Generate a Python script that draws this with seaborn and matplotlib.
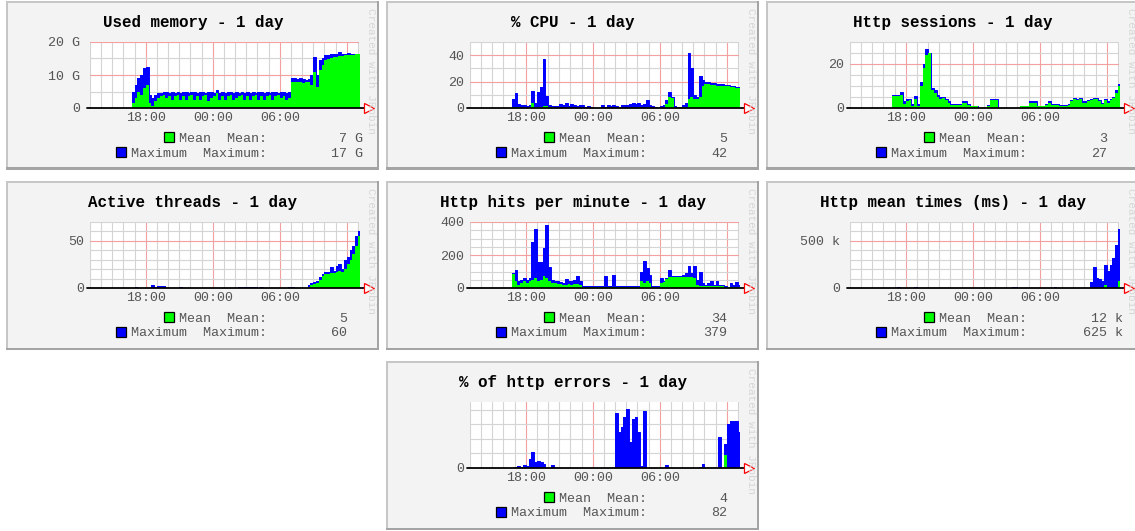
import numpy as np
import pandas as pd
import matplotlib
matplotlib.use("Agg")
import matplotlib.pyplot as plt
import seaborn as sns
from matplotlib.patches import Rectangle

# ---------------- data (15-minute steps starting 16:45, hours since day-1 midnight) -------------
START_HOUR = 16.75
STEP_HOURS = 0.25

mem_max = [5, 7, 9, 10, 12, 12.5, 4, 3, 4, 4.5,
           4.5, 5, 4.8, 4.5, 4.8, 4.5, 4.8, 4.5, 4.8, 5,
           4.5, 4.8, 5, 4.6, 4.8, 5, 4.6, 4.8, 5, 4.5,
           5.5, 4.6, 4.8, 4.5, 4.8, 5, 4.6, 4.8, 4.5, 5,
           4.6, 4.8, 4.5, 5, 4.6, 4.8, 5, 4.5, 4.8, 4.6,
           4.8, 5, 4.6, 4.8, 5, 4.5, 4.8, 9, 9, 8.8,
           9, 8.7, 8.5, 8.8, 10, 15.5, 10, 14.5, 15, 16,
           16.2, 16.3, 16.5, 16.5, 17, 16.5, 16.5, 16.6, 16.5, 16.5,
           16.5, 16.5]
mem_mean = [1.5, 3, 5, 4, 6, 7, 1.5, 0.5, 2, 3,
            3.5, 4, 3, 3.5, 2.5, 3.5, 4, 2.5, 3.5, 2.5,
            3.5, 4, 2.5, 3.5, 2.5, 3.5, 4, 2, 3, 3.5,
            4.5, 2.5, 3.5, 2.5, 3.5, 4, 2.5, 3, 3.5, 4,
            2.5, 3.5, 2.5, 3.5, 4, 2.5, 3.5, 2.5, 3.5, 4,
            2.5, 3.5, 4, 3, 3.5, 2.5, 3, 8, 7.8, 8,
            7.8, 7.5, 7.8, 8, 7, 11, 6.5, 11.5, 13, 14.5,
            15, 15.3, 15.5, 15.5, 15.8, 15.8, 16, 16, 16.2, 16.2,
            16.3, 16.3]

cpu_max = [7, 11, 3, 2, 2, 1.5, 2, 13, 4, 12,
           16, 37, 9, 2, 1.5, 1.5, 1.5, 3, 2, 4,
           1.5, 3, 2.5, 1.5, 2, 2, 1, 1.5, 0.5, 0,
           0, 0, 2, 1, 2, 1.5, 2, 1.5, 1, 2,
           2, 2, 3, 4, 3, 4, 2, 3, 6, 2,
           1.5, 0.5, 0, 1.5, 2.5, 6, 12, 8, 1.5, 1,
           1, 2, 4, 42, 30, 10, 8, 24, 21, 20,
           19.5, 19, 19, 18.5, 18, 18, 17.5, 17.5, 17, 17,
           16, 16]
cpu_mean = [0.5, 1, 0.5, 0.3, 0.3, 0.3, 0.5, 4, 0.5, 1,
            1, 1.5, 1.5, 0.5, 0.5, 0.3, 0.3, 0.3, 0.3, 0.3,
            0.3, 0.3, 0.3, 0.3, 0.3, 0.3, 0.2, 0.2, 0, 0,
            0, 0, 0.3, 0.2, 0.3, 0.2, 0.3, 0.2, 0.2, 0.3,
            0.3, 0.3, 0.3, 0.5, 0.3, 0.5, 0.3, 0.3, 0.5, 0.3,
            0.2, 0, 0, 0.2, 0.3, 3, 8, 7.5, 0.3, 0.2,
            0.2, 0.5, 1, 7, 8, 7, 7, 8, 17, 18,
            18, 17.5, 17.5, 17, 17, 16.5, 16.5, 16.5, 16, 16,
            15, 15]

sess_max = [6, 6, 6, 7.5, 3, 4, 4, 2, 5.5, 2,
            12, 20, 27, 25, 9, 8, 6, 5, 5, 4,
            3, 2, 2, 2, 2, 3, 3, 2, 1, 1,
            1, 0, 0, 0, 1.5, 4, 4, 4, 0, 0,
            0, 0, 0, 0, 0, 0, 1, 1, 1, 3,
            3, 3, 1, 1, 1, 2, 3, 2, 2, 2,
            1.5, 1.5, 1.5, 2, 3.5, 4.5, 4, 4.5, 3, 3,
            3.5, 4, 4.5, 4.5, 3.5, 2.5, 4, 3, 4, 5,
            8, 11]
sess_mean = [5.5, 5.5, 5.5, 6, 2, 3, 3.5, 1, 4, 1,
             10, 18, 24, 25, 8, 7, 5, 4, 4.5, 3.5,
             2.5, 1.5, 1.5, 1.5, 1.5, 2.5, 2.5, 1.5, 0.8, 0.8,
             0.8, 0, 0, 0, 1, 3.5, 3.5, 3.5, 0, 0,
             0, 0, 0, 0, 0, 0, 0.8, 0.8, 0.8, 2.5,
             2.5, 2.5, 0.8, 0.8, 0.8, 1.5, 2.5, 1.5, 1.5, 1.5,
             1, 1, 1, 1.5, 3, 4, 3.5, 4, 2.5, 2.5,
             3, 3.5, 4, 4, 3, 2, 3.5, 2.5, 3.5, 4.5,
             7, 10]

thr_max = [0.5, 1, 0, 0, 0, 0, 0, 3, 1, 2,
           2, 2, 0, 0, 0, 0, 0, 1, 0, 0,
           0, 0, 0, 0, 0, 0, 0, 0, 0, 0,
           0, 0, 0, 0, 0, 0, 0, 0, 1, 1,
           1, 1, 1.5, 1.5, 1, 0.5, 1, 0.5, 0, 0,
           0, 0, 0, 0, 0, 0, 1.5, 1.5, 0, 0,
           0, 0, 0, 3, 5, 6, 7, 12, 15, 17,
           17, 22, 18, 23, 25, 20, 30, 33, 40, 45,
           55, 60]
thr_mean = [0, 0, 0, 0, 0, 0, 0, 0, 0, 0,
            0, 0, 0, 0, 0, 0, 0, 0, 0, 0,
            0, 0, 0, 0, 0, 0, 0, 0, 0, 0,
            0, 0, 0, 0, 0, 0, 0, 0, 0, 0,
            0, 0, 0, 0, 0, 0, 0, 0, 0, 0,
            0, 0, 0, 0, 0, 0, 0, 0, 0, 0,
            0, 0, 0, 1, 3, 4, 5, 9, 13, 15,
            15, 16, 16, 17, 18, 17, 20, 25, 30, 36,
            45, 55]

hits_max = [90, 110, 40, 50, 60, 50, 60, 280, 360, 160,
            160, 240, 379, 130, 50, 40, 40, 35, 30, 55,
            45, 40, 50, 75, 40, 10, 10, 10, 10, 10,
            10, 10, 10, 75, 10, 10, 80, 10, 10, 10,
            10, 10, 10, 10, 10, 10, 100, 165, 120, 80,
            10, 10, 10, 60, 45, 60, 110, 75, 75, 75,
            75, 80, 90, 135, 90, 135, 50, 100, 30, 20,
            30, 40, 20, 45, 20, 20, 15, 5, 30, 20,
            35, 20]
hits_mean = [85, 40, 20, 30, 40, 30, 40, 50, 60, 40,
             50, 70, 60, 40, 30, 30, 25, 25, 20, 20,
             25, 20, 25, 25, 20, 5, 5, 5, 5, 5,
             5, 5, 5, 5, 5, 5, 5, 5, 5, 5,
             5, 5, 5, 5, 5, 5, 40, 30, 40, 30,
             5, 5, 5, 30, 35, 55, 65, 65, 65, 65,
             65, 65, 65, 65, 65, 60, 20, 15, 15, 10,
             10, 10, 10, 10, 10, 10, 5, 5, 5, 5,
             5, 5]

times_max = [0, 0, 12, 0, 0, 0, 0, 0, 10, 0,
             0, 0, 0, 0, 0, 0, 0, 0, 0, 0,
             0, 0, 0, 0, 0, 0, 0, 0, 0, 0,
             0, 0, 0, 0, 0, 0, 0, 0, 0, 0,
             0, 0, 0, 12, 12, 0, 0, 0, 0, 0,
             0, 0, 0, 0, 0, 0, 0, 0, 10, 0,
             0, 0, 0, 0, 0, 0, 0, 0, 0, 0,
             0, 60, 220, 110, 100, 70, 240, 180, 240, 320,
             460, 625]
times_mean = [0, 0, 0, 0, 0, 0, 0, 0, 0, 0,
              0, 0, 0, 0, 0, 0, 0, 0, 0, 0,
              0, 0, 0, 0, 0, 0, 0, 0, 0, 0,
              0, 0, 0, 0, 0, 0, 0, 0, 0, 0,
              0, 0, 0, 0, 0, 0, 0, 0, 0, 0,
              0, 0, 0, 0, 0, 0, 0, 0, 0, 0,
              0, 0, 0, 0, 0, 0, 0, 0, 0, 0,
              0, 0, 0, 0, 0, 0, 30, 0, 0, 0,
              0, 70]

err_max = [0, 2, 3, 2, 4, 3, 12, 22, 8, 10,
           8, 6, 0, 0, 4, 0, 0, 0, 0, 0,
           0, 0, 0, 0, 0, 0, 0, 0, 0, 0,
           0, 0, 0, 0, 0, 0, 0, 76, 50, 56,
           70, 82, 36, 68, 70, 50, 3, 79, 0, 0,
           0, 0, 0, 0, 0, 4, 0, 0, 0, 0,
           0, 0, 0, 0, 0, 0, 0, 2, 5, 0,
           0, 0, 0, 0, 43, 0, 33, 60, 65, 65,
           65, 50]
err_mean = [0, 0, 0, 0, 0, 0, 0, 0, 0, 0,
            0, 0, 0, 0, 0, 0, 0, 0, 0, 0,
            0, 0, 0, 0, 0, 0, 0, 0, 0, 0,
            0, 0, 0, 0, 0, 0, 0, 0, 0, 0,
            0, 0, 0, 0, 0, 0, 0, 0, 0, 0,
            0, 0, 0, 0, 0, 0, 0, 0, 0, 0,
            0, 0, 0, 0, 0, 0, 0, 0, 0, 0,
            0, 0, 0, 0, 0, 0, 18, 0, 0, 0,
            0, 0]

titles = ["Used memory - 1 day", "% CPU - 1 day", "Http sessions - 1 day",
          "Active threads - 1 day", "Http hits per minute - 1 day",
          "Http mean times (ms) - 1 day", "% of http errors - 1 day"]
units = ["G", "", "", "", "", "k", ""]
legend_mean = [7, 5, 3, 5, 34, 12, 4]
legend_max = [17, 42, 27, 60, 379, 625, 82]
y_top = [20, 50, 30, 70, 400, 700, 91]
y_major = [[0, 10, 20], [0, 20, 40], [0, 20], [0, 50], [0, 200, 400], [0, 500], [0]]
y_minor_step = [5, 10, 5, 10, 50, 100, 20]
x_tick_hours = [18, 24, 30]
x_tick_labels = ["18:00", "00:00", "06:00"]
x_major_grid_hours = [18, 24, 30, 36]

series_max = [mem_max, cpu_max, sess_max, thr_max, hits_max, times_max, err_max]
series_mean = [mem_mean, cpu_mean, sess_mean, thr_mean, hits_mean, times_mean, err_mean]

# ---------------- layout ----------------
W, H = 1135, 531
PW, PH = 373, 169
panel_origin = [(6, 1), (386, 1), (766, 1), (6, 181), (386, 181), (766, 181), (386, 361)]

sns.set_style("white")
plt.rcParams["font.family"] = ["Liberation Mono", "DejaVu Sans Mono"]

fig = plt.figure(figsize=(W / 100, H / 100), dpi=100)
fig.patch.set_facecolor("white")


def fx(x):
    return x / W


def fy(y):
    return 1 - y / H


TXT = "#555555"
GRID_MINOR = "#d4d4d4"
GRID_MAJOR = "#f4a0a0"

for k in range(7):
    x0, y0 = panel_origin[k]
    unit = units[k]
    # panel background and bevelled border
    fig.add_artist(Rectangle((fx(x0), fy(y0 + PH)), PW / W, PH / H, transform=fig.transFigure,
                             facecolor="#f3f3f3", edgecolor="none", zorder=0))
    fig.add_artist(Rectangle((fx(x0), fy(y0 + 2)), PW / W, 2 / H, transform=fig.transFigure,
                             facecolor="#c6c6c6", edgecolor="none", zorder=0.1))
    fig.add_artist(Rectangle((fx(x0), fy(y0 + PH)), 2 / W, PH / H, transform=fig.transFigure,
                             facecolor="#c6c6c6", edgecolor="none", zorder=0.1))
    fig.add_artist(Rectangle((fx(x0), fy(y0 + PH)), PW / W, 2.5 / H, transform=fig.transFigure,
                             facecolor="#a4a4a4", edgecolor="none", zorder=0.2))
    fig.add_artist(Rectangle((fx(x0 + PW - 2.5), fy(y0 + PH)), 2.5 / W, PH / H, transform=fig.transFigure,
                             facecolor="#a4a4a4", edgecolor="none", zorder=0.2))

    # plot area
    ax = fig.add_axes([fx(x0 + 84), fy(y0 + 107), 269 / W, 66 / H])
    ax.set_facecolor("white")
    vmax = np.asarray(series_max[k], dtype=float)
    vmean = np.asarray(series_mean[k], dtype=float)
    edges = START_HOUR + STEP_HOURS * np.arange(len(vmax) + 1)
    vmax_e = np.append(vmax, vmax[-1])
    vmean_e = np.append(vmean, vmean[-1])
    ax.fill_between(edges, 0, vmax_e, step="post", color="#0000ff", lw=0, zorder=3)
    df = pd.DataFrame({"t": edges, "v": vmax_e})
    sns.lineplot(data=df, x="t", y="v", drawstyle="steps-post", color="#0000ff",
                 linewidth=0.7, ax=ax, zorder=4)
    ax.fill_between(edges, 0, vmean_e, step="post", color="#00ff00", lw=0, zorder=5)
    ax.set_xlabel("")
    ax.set_ylabel("")

    ax.set_xlim(13.0, 37.1)
    ax.set_ylim(0, y_top[k])
    ax.set_xticks(x_major_grid_hours, x_tick_labels + [""])
    ax.set_xticks([h for h in range(13, 38) if h not in x_major_grid_hours], minor=True)
    ylabels = [("0" if v == 0 else (f"{v} {unit}" if unit else f"{v}")) for v in y_major[k]]
    ax.set_yticks(y_major[k], ylabels)
    ax.set_yticks([v for v in np.arange(0, y_top[k] + 1e-9, y_minor_step[k]) if v not in y_major[k]],
                  minor=True)
    ax.grid(which="minor", color=GRID_MINOR, lw=0.8)
    ax.grid(which="major", color=GRID_MAJOR, lw=0.8)
    ax.set_axisbelow(True)
    for s in ax.spines.values():
        s.set_visible(False)
    ax.tick_params(axis="x", which="both", length=0, pad=3.2, labelsize=9.6, labelcolor=TXT)
    ax.tick_params(axis="y", which="major", length=2.2, width=0.8, color=GRID_MAJOR,
                   pad=(5.0 if unit else 2.2), labelsize=9.6, labelcolor=TXT)
    ax.tick_params(axis="y", which="minor", length=2.2, width=0.8, color=GRID_MINOR)

    # baseline and arrow
    ax.plot([-3 / 269, 1 + 6 / 269], [0, 0], transform=ax.get_yaxis_transform(),
            color="black", lw=1.3, clip_on=False, zorder=6)
    ax.plot([1 + 5 / 269, 1 + 9 / 269], [0, 0], transform=ax.get_yaxis_transform(),
            color="red", lw=1.0, clip_on=False, zorder=6)
    ax.plot([1 + 10 / 269], [0], transform=ax.get_yaxis_transform(), marker=">", ms=6.5,
            mfc="white", mec="red", mew=0.9, clip_on=False, zorder=7)

    # title
    fig.text(fx(x0 + 187), fy(y0 + 25.8), titles[k], ha="center", va="baseline",
             fontsize=11.4, fontweight="bold", color="black")
    # watermark
    fig.text(fx(x0 + 365), fy(y0 + 70), "Created with JRobin", rotation=270,
             ha="center", va="center", fontsize=8, color="#d6d6d6")

    # legend
    fig.add_artist(Rectangle((fx(x0 + 158), fy(y0 + 141)), 10 / W, 10 / H, transform=fig.transFigure,
                             facecolor="#00ff00", edgecolor="black", lw=0.9, zorder=2))
    fig.add_artist(Rectangle((fx(x0 + 110), fy(y0 + 156)), 10 / W, 10 / H, transform=fig.transFigure,
                             facecolor="#0000ff", edgecolor="black", lw=0.9, zorder=2))
    fig.text(fx(x0 + 173), fy(y0 + 140.5), "Mean  Mean:", ha="left", va="baseline",
             fontsize=9.6, color=TXT)
    fig.text(fx(x0 + 125), fy(y0 + 155.5), "Maximum  Maximum:", ha="left", va="baseline",
             fontsize=9.6, color=TXT)
    vx = x0 + (357 if unit else 341)
    suffix = f" {unit}" if unit else ""
    fig.text(fx(vx), fy(y0 + 140.5), f"{legend_mean[k]}{suffix}", ha="right", va="baseline",
             fontsize=9.6, color=TXT)
    fig.text(fx(vx), fy(y0 + 155.5), f"{legend_max[k]}{suffix}", ha="right", va="baseline",
             fontsize=9.6, color=TXT)

fig.savefig("out.png", dpi=100, facecolor="white")
